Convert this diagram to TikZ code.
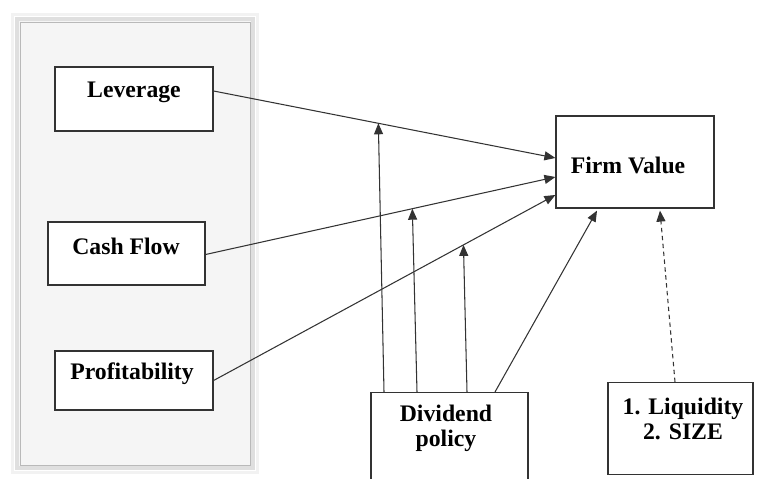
\documentclass[tikz,border=0pt]{standalone}
\usepackage{fontspec}
\setmainfont{Liberation Serif}
\usepackage{tikz}
\usetikzlibrary{shapes,arrows,arrows.meta,positioning,calc}

\begin{document}
\begin{tikzpicture}[
    x=0.02cm, y=-0.02cm,
    box/.style={rectangle, draw=black!80, line width=0.7pt, fill=white, minimum width=3.16cm},
    lbl/.style={font=\fontsize{13.5}{14.2}\selectfont\bfseries, align=center, inner sep=0pt},
    link/.style={line width=0.6pt, black!80, -{Triangle[length=2.2mm,width=1.8mm]}},
    dep/.style={link, dash pattern=on 2.5pt off 2pt}
]
    \useasboundingbox (0,0) rectangle (757,479);
    \clip (0,0) rectangle (757,479);

    % shaded panel behind the three drivers
    \fill[gray!10] (11,13) rectangle (259,474);
    \fill[white] (14,16) rectangle (256,471);
    \draw[gray!25, line width=2pt, fill=gray!8] (17,19) rectangle (253,468);
    \draw[gray!55, line width=0.5pt] (20,22) rectangle (250,465);

    \node[box, minimum height=1.28cm] (lev) at (134,99) {};
    \node[lbl] (levtxt) at (134,92) {Leverage};
    \node[box, minimum height=1.26cm, minimum width=3.14cm] (cf) at (126.5,253.5) {};
    \node[lbl] (cftxt) at (126,246) {Cash Flow};
    \node[box, minimum height=1.18cm] (prof) at (134,380.5) {};
    \node[lbl] (proftxt) at (132,374) {Profitability};

    \node[box, minimum height=1.84cm] (fv) at (635,162) {};
    \node[lbl] (fvtxt) at (628,165) {Firm Value};

    \node[box, anchor=north, minimum height=2.2cm, minimum width=3.14cm] (div) at (449.5,392) {};
    \node[lbl] (divtxt) at (446,428) {Dividend\\policy};
    \node[box, anchor=north, minimum height=1.84cm, minimum width=2.9cm] (liq) at (680.5,382) {};
    \node[lbl] (liqtxt) at (683,418.5) {1. Liquidity\\2. SIZE};

    % direct effects
    \draw[link] ($(lev.east)+(0,-8)$) -- coordinate[pos=0.482] (mlev) ($(fv.west)+(0,-4)$);
    \draw[link] ($(cf.east)+(0,1)$) -- coordinate[pos=0.591] (mcf) ($(fv.west)+(0,15)$);
    \draw[link] (prof.east) -- coordinate[pos=0.731] (mprof) ($(fv.west)+(0,33)$);

    % moderating effects
    \draw[link] ($(div.north)+(-65.5,0)$) -- (mlev);
    \draw[link] ($(div.north)+(-32.5,0)$) -- (mcf);
    \draw[link] ($(div.north)+(17.5,0)$) -- (mprof);
    \draw[link] ($(div.north)+(45.5,0)$) -- ($(fv.south)+(-38,2)$);

    % control
    \draw[dep] ($(liq.north)+(-5.5,0)$) -- ($(fv.south)+(25,2)$);
\end{tikzpicture}
\end{document}
